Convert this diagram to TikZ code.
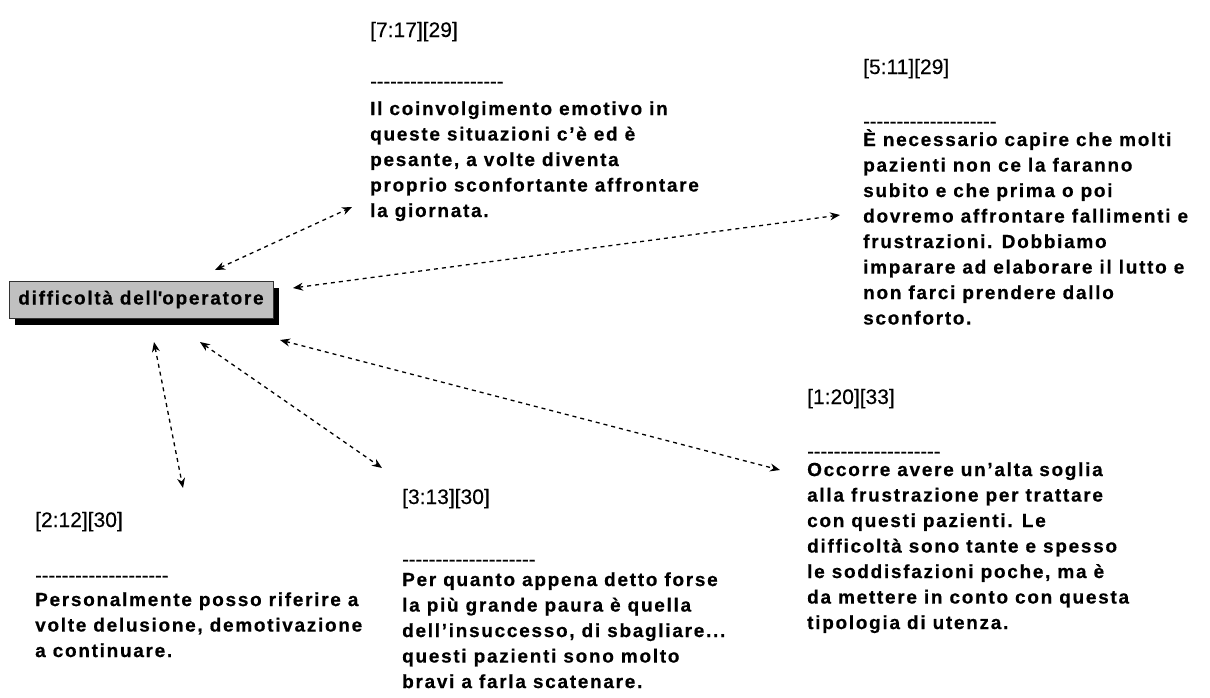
\documentclass[tikz,border=0pt]{standalone}
\usepackage{fontspec}
\usetikzlibrary{arrows.meta,shadows}
\newfontfamily\notefont[LetterSpace=9,BoldFeatures={FakeBold=0.5}]{Liberation Sans}
\newfontfamily\tagfont[FakeBold=0.3]{Liberation Sans}
\definecolor{hubgray}{RGB}{192,192,192}
\newcommand{\dashrow}{\foreach \k in {1,...,20}{\mbox{-}}}

\begin{document}
\begin{tikzpicture}[x=1pt,y=-1pt,>={Stealth[length=10pt,width=8pt]},
    link/.style={<->, line width=1.3pt, dash pattern=on 4pt off 4pt},
    tagline/.style={anchor=base west, inner sep=0pt, font=\tagfont\fontsize{21}{24}\selectfont},
    ruleline/.style={anchor=base west, inner sep=0pt, font=\tagfont\fontsize{20}{24}\selectfont},
    notetext/.style={anchor=north west, inner sep=0pt, align=left, font=\notefont\bfseries\fontsize{19}{25.5}\selectfont}]
  \useasboundingbox (0,0) rectangle (1210,697);

  \node [draw=black!80, line width=1pt, fill=hubgray, minimum width=264pt, minimum height=37pt, inner sep=0pt,
         drop shadow={shadow xshift=6pt, shadow yshift=-7pt, fill=black, opacity=1},
         font=\notefont\bfseries\fontsize{19}{22}\selectfont] (Hub) at (141,299.5) {difficoltà dell\textquotesingle operatore};

  % 7:17
  \node [tagline] (Tag717) at (370,37) {[7:17][29]};
  \node [ruleline] (Rule717) at (370,88) {\dashrow};
  \node [notetext] (Note717) at (370,97) {\strut Il coinvolgimento emotivo in\\queste situazioni c’è ed è\\pesante, a volte diventa\\proprio sconfortante affrontare\\la giornata.};

  % 5:11
  \node [tagline] (Tag511) at (863,74) {[5:11][29]};
  \node [ruleline] (Rule511) at (863,128) {\dashrow};
  \node [notetext] (Note511) at (863,128) {\strut È necessario capire che molti\\pazienti non ce la faranno\\subito e che prima o poi\\dovremo affrontare fallimenti e\\frustrazioni. Dobbiamo\\imparare ad elaborare il lutto e\\non farci prendere dallo\\sconforto.};

  % 1:20
  \node [tagline] (Tag120) at (807,404) {[1:20][33]};
  \node [ruleline] (Rule120) at (807,458) {\dashrow};
  \node [notetext] (Note120) at (807,458) {\strut Occorre avere un’alta soglia\\alla frustrazione per trattare\\con questi pazienti. Le\\difficoltà sono tante e spesso\\le soddisfazioni poche, ma è\\da mettere in conto con questa\\tipologia di utenza.};

  % 3:13
  \node [tagline] (Tag313) at (402,504) {[3:13][30]};
  \node [ruleline] (Rule313) at (402,566) {\dashrow};
  \node [notetext] (Note313) at (402,568) {\strut Per quanto appena detto forse\\la più grande paura è quella\\dell’insuccesso, di sbagliare...\\questi pazienti sono molto\\bravi a farla scatenare.};

  % 2:12
  \node [tagline] (Tag212) at (35,527) {[2:12][30]};
  \node [ruleline] (Rule212) at (35,582) {\dashrow};
  \node [notetext] (Note212) at (35,588) {\strut Personalmente posso riferire a\\volte delusione, demotivazione\\a continuare.};

  % arrow ends
  \coordinate (h717) at (215,270);  \coordinate (e717) at (352,207);
  \coordinate (h511) at (293,288);  \coordinate (e511) at (840,215);
  \coordinate (h120) at (280,340);  \coordinate (e120) at (780,470);
  \coordinate (h313) at (200,342);  \coordinate (e313) at (382,468);
  \coordinate (h212) at (154,342);  \coordinate (e212) at (183,488);

  \draw [link] (h717) -- (e717);
  \draw [link] (h511) -- (e511);
  \draw [link] (h120) -- (e120);
  \draw [link] (h313) -- (e313);
  \draw [link] (h212) -- (e212);
\end{tikzpicture}
\end{document}
